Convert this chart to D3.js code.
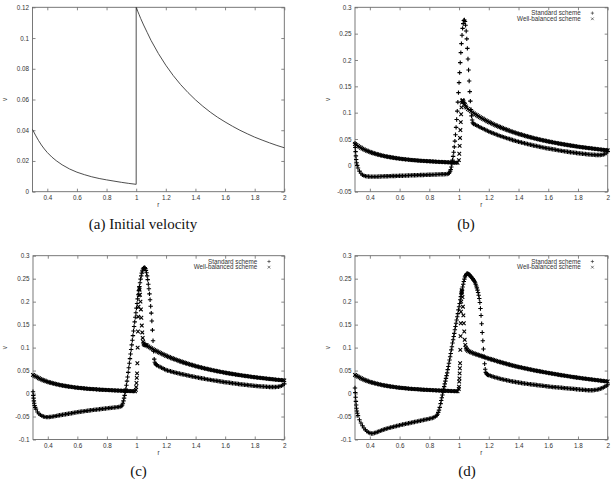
<!DOCTYPE html>
<html>
<head>
<meta charset="utf-8">
<title>velocity</title>
<script src="https://cdn.jsdelivr.net/npm/d3@7"></script>
<style>
  body{margin:0;background:#fff}
  svg{display:block}
</style>
</head>
<body>
<svg id="fig" width="615" height="479"></svg>
<script>
// ---- data ---------------------------------------------------------------
const xTicks = [0.4,0.6,0.8,1,1.2,1.4,1.6,1.8,2]
const yTicksA = [0,0.02,0.04,0.06,0.08,0.1,0.12]
const yTicksB = [-0.05,0,0.05,0.1,0.15,0.2,0.25,0.3]
const yTicksCD = [-0.1,-0.05,0,0.05,0.1,0.15,0.2,0.25,0.3]
const seriesNames = ["Standard scheme","Well-balanced scheme"]
const captions = ["(a) Initial velocity","(b)","(c)","(d)"]

// (a) initial velocity, [r, v]
const initV = [[.30,.0405],[.32,.0368],[.34,.0334],[.36,.0304],[.38,.0278],[.40,.0255],[.43,.0226],[.46,.0202],[.50,.0175],[.55,.0148],[.60,.0127],[.65,.0111],[.70,.0097],[.75,.0086],[.80,.0077],[.85,.0069],[.90,.0061],[.95,.0054],[1.0,.0048],
[1.0,.12],[1.01,.1175],[1.02,.1152],[1.03,.1128],[1.05,.1085],[1.075,.1035],[1.10,.0985],[1.15,.0899],[1.20,.0823],[1.25,.0756],[1.30,.0697],[1.35,.0645],[1.40,.0598],[1.45,.0556],[1.50,.0518],[1.55,.0484],[1.60,.0454],[1.65,.0426],[1.70,.0400],[1.75,.0377],[1.80,.0355],[1.85,.0336],[1.90,.0318],[1.95,.0301],[2.0,.0286]]

// (b)
const stdB = [[.300,.042],[.302,.034],[.304,.026],[.306,.018],[.308,.011],[.311,.005],[.315,.000],[.32,-.005],[.33,-.011],[.34,-.015],[.35,-.018],[.36,-.0195],[.37,-.0205],[.38,-.0210],[.39,-.0212],
[.40,-.0213],[.41,-.0214],[.42,-.0214],[.43,-.0214],[.44,-.0214],[.45,-.0213],[.46,-.0212],[.47,-.0211],[.48,-.0210],[.49,-.0209],
[.50,-.0208],[.51,-.0207],[.52,-.0206],[.53,-.0205],[.54,-.0204],[.55,-.0203],[.56,-.0202],[.57,-.0201],[.58,-.0200],[.59,-.0199],
[.60,-.0198],[.61,-.0197],[.62,-.0196],[.63,-.0195],[.64,-.0194],[.65,-.0193],[.66,-.0192],[.67,-.0191],[.68,-.0190],[.69,-.0189],
[.70,-.0188],[.71,-.0187],[.72,-.0186],[.73,-.0185],[.74,-.0184],[.75,-.0183],[.76,-.0182],[.77,-.0181],[.78,-.0180],[.79,-.0179],
[.80,-.0178],[.81,-.0177],[.82,-.0176],[.83,-.0175],[.84,-.0174],[.85,-.0173],[.86,-.0172],[.87,-.0171],[.88,-.0170],[.89,-.0169],
[.90,-.0168],[.91,-.0166],[.92,-.0163],[.93,-.0155],[.935,-.014],[.94,-.011],[.944,-.008],[.948,-.003],[.952,.003],[.956,.010],
[.960,.017],[.964,.025],[.968,.035],[.972,.046],[.976,.058],[.980,.072],[.984,.087],[.988,.103],[.992,.120],[.996,.138],
[1.000,.157],[1.004,.176],[1.008,.195],[1.012,.214],[1.016,.231],[1.020,.247],[1.024,.260],[1.028,.269],[1.032,.275],[1.036,.276],
[1.040,.273],[1.044,.266],[1.048,.255],[1.052,.240],[1.056,.222],[1.060,.202],[1.064,.181],[1.068,.160],[1.072,.140],[1.076,.122],
[1.080,.106],[1.084,.094],[1.088,.086],[1.092,.081],[1.096,.079],
[1.10,.0786],[1.11,.0771],[1.12,.0756],[1.13,.0741],[1.14,.0726],[1.15,.0712],[1.16,.0698],[1.17,.0684],[1.18,.0670],[1.19,.0656],
[1.20,.0643],[1.21,.0631],[1.22,.0620],[1.23,.0609],[1.24,.0598],[1.25,.0587],[1.26,.0576],[1.27,.0565],[1.28,.0555],[1.29,.0545],
[1.30,.0535],[1.31,.0526],[1.32,.0517],[1.33,.0508],[1.34,.0499],[1.35,.0490],[1.36,.0481],[1.37,.0472],[1.38,.0464],[1.39,.0456],
[1.40,.0448],[1.41,.0441],[1.42,.0434],[1.43,.0427],[1.44,.0420],[1.45,.0413],[1.46,.0406],[1.47,.0399],[1.48,.0392],[1.49,.0385],
[1.50,.0378],[1.51,.0372],[1.52,.0366],[1.53,.0360],[1.54,.0354],[1.55,.0348],[1.56,.0342],[1.57,.0336],[1.58,.0330],[1.59,.0325],
[1.60,.0320],[1.61,.0315],[1.62,.0310],[1.63,.0305],[1.64,.0300],[1.65,.0295],[1.66,.0290],[1.67,.0285],[1.68,.0280],[1.69,.0275],
[1.70,.0270],[1.71,.0266],[1.72,.0262],[1.73,.0258],[1.74,.0254],[1.75,.0250],[1.76,.0246],[1.77,.0242],[1.78,.0238],[1.79,.0234],
[1.80,.0230],[1.81,.0227],[1.82,.0224],[1.83,.0221],[1.84,.0218],[1.85,.0215],[1.86,.0212],[1.87,.0209],[1.88,.0206],[1.89,.0204],
[1.90,.0202],[1.91,.0200],[1.92,.0198],[1.93,.0197],[1.94,.0196],[1.95,.0196],[1.96,.0199],[1.97,.0205],[1.98,.0215],[1.99,.0235],[2.00,.0265]]

const wbB = [[.30,.0405],[.31,.0386],[.32,.0368],[.33,.0351],[.34,.0334],[.35,.0318],[.36,.0304],[.37,.0290],[.38,.0278],[.39,.0266],
[.40,.0255],[.41,.0245],[.42,.0235],[.43,.0226],[.44,.0218],[.45,.0210],[.46,.0202],[.47,.0195],[.48,.0188],[.49,.0181],
[.50,.0175],[.51,.0169],[.52,.0163],[.53,.0158],[.54,.0153],[.55,.0148],[.56,.0144],[.57,.0139],[.58,.0135],[.59,.0131],
[.60,.0127],[.61,.0124],[.62,.0120],[.63,.0117],[.64,.0114],[.65,.0111],[.66,.0108],[.67,.0105],[.68,.0102],[.69,.0100],
[.70,.0097],[.71,.0095],[.72,.0093],[.73,.0090],[.74,.0088],[.75,.0086],[.76,.0084],[.77,.0082],[.78,.0080],[.79,.0079],
[.80,.0077],[.81,.0075],[.82,.0074],[.83,.0072],[.84,.0070],[.85,.0069],[.86,.0067],[.87,.0066],[.88,.0064],[.89,.0063],
[.90,.0061],[.91,.0060],[.92,.0058],[.93,.0057],[.94,.0056],[.95,.0054],[.96,.0053],[.97,.0052],[.98,.0051],[.99,.0050],
[.999,.010],[1.0015,.022],[1.004,.037],[1.0065,.052],[1.009,.067],[1.0115,.082],[1.014,.097],[1.0165,.110],[1.019,.119],[1.0215,.123],
[1.024,.1235],[1.027,.122],[1.030,.120],[1.035,.117],[1.040,.115],[1.045,.112],
[1.05,.1095],[1.06,.1070],[1.07,.1048],[1.08,.1027],[1.09,.1006],[1.10,.0986],[1.11,.0968],[1.12,.0951],[1.13,.0933],[1.14,.0916],
[1.15,.0899],[1.16,.0884],[1.17,.0869],[1.18,.0853],[1.19,.0838],[1.20,.0823],[1.21,.0810],[1.22,.0796],[1.23,.0783],[1.24,.0769],
[1.25,.0756],[1.26,.0744],[1.27,.0732],[1.28,.0721],[1.29,.0709],[1.30,.0697],[1.31,.0687],[1.32,.0676],[1.33,.0666],[1.34,.0655],
[1.35,.0645],[1.36,.0636],[1.37,.0626],[1.38,.0617],[1.39,.0607],[1.40,.0598],[1.41,.0590],[1.42,.0581],[1.43,.0573],[1.44,.0564],
[1.45,.0556],[1.46,.0548],[1.47,.0541],[1.48,.0533],[1.49,.0526],[1.50,.0518],[1.51,.0511],[1.52,.0504],[1.53,.0498],[1.54,.0491],
[1.55,.0484],[1.56,.0478],[1.57,.0472],[1.58,.0466],[1.59,.0460],[1.60,.0454],[1.61,.0448],[1.62,.0443],[1.63,.0437],[1.64,.0432],
[1.65,.0426],[1.66,.0421],[1.67,.0416],[1.68,.0410],[1.69,.0405],[1.70,.0400],[1.71,.0395],[1.72,.0391],[1.73,.0386],[1.74,.0382],
[1.75,.0377],[1.76,.0373],[1.77,.0368],[1.78,.0364],[1.79,.0359],[1.80,.0355],[1.81,.0351],[1.82,.0347],[1.83,.0344],[1.84,.0340],
[1.85,.0336],[1.86,.0332],[1.87,.0329],[1.88,.0325],[1.89,.0322],[1.90,.0318],[1.91,.0315],[1.92,.0311],[1.93,.0308],[1.94,.0304],
[1.95,.0301],[1.96,.0298],[1.97,.0295],[1.98,.0292],[1.99,.0289],[2.00,.0286]]

// (c)
const stdC = [[.300,.004],[.302,-.004],[.304,-.010],[.306,-.016],[.308,-.021],[.311,-.026],[.315,-.030],[.32,-.034],[.33,-.040],[.34,-.044],[.35,-.0465],[.36,-.0485],[.37,-.0500],[.38,-.0508],[.39,-.0512],
[.40,-.0513],[.41,-.0511],[.42,-.0507],[.43,-.0502],[.44,-.0497],[.45,-.0491],[.46,-.0485],[.47,-.0479],[.48,-.0473],[.49,-.0467],
[.50,-.0461],[.51,-.0455],[.52,-.0450],[.53,-.0444],[.54,-.0439],[.55,-.0433],[.56,-.0428],[.57,-.0422],[.58,-.0416],[.59,-.0411],
[.60,-.0405],[.61,-.0401],[.62,-.0396],[.63,-.0392],[.64,-.0387],[.65,-.0383],[.66,-.0378],[.67,-.0374],[.68,-.0369],[.69,-.0365],
[.70,-.0360],[.71,-.0356],[.72,-.0352],[.73,-.0349],[.74,-.0345],[.75,-.0341],[.76,-.0337],[.77,-.0333],[.78,-.0330],[.79,-.0326],
[.80,-.0322],[.81,-.0318],[.82,-.0314],[.83,-.0311],[.84,-.0307],[.85,-.0303],[.86,-.0300],[.87,-.0296],[.88,-.0292],[.89,-.0285],
[.90,-.0272],[.904,-.025],[.908,-.021],[.912,-.016],[.916,-.010],[.920,-.004],[.924,.003],[.928,.010],[.932,.018],[.936,.027],
[.940,.036],[.944,.046],[.948,.056],[.952,.066],[.956,.076],[.960,.086],[.964,.096],[.968,.106],[.972,.116],[.976,.126],
[.980,.136],[.984,.146],[.988,.156],[.992,.166],[.996,.176],[1.000,.186],[1.004,.196],[1.008,.206],[1.012,.215],[1.016,.224],
[1.020,.233],[1.024,.241],[1.028,.249],[1.032,.256],[1.036,.262],[1.040,.267],[1.044,.271],[1.048,.273],[1.052,.274],[1.056,.274],
[1.060,.272],[1.064,.268],[1.068,.263],[1.072,.256],[1.076,.248],[1.080,.238],[1.084,.228],[1.088,.217],[1.092,.204],[1.096,.190],
[1.100,.175],[1.104,.158],[1.108,.138],[1.112,.115],[1.116,.092],[1.120,.075],[1.124,.068],[1.128,.065],[1.132,.063],[1.136,.062],
[1.14,.0615],[1.15,.0595],[1.16,.0577],[1.17,.0560],[1.18,.0544],[1.19,.0528],
[1.20,.0513],[1.21,.0503],[1.22,.0494],[1.23,.0485],[1.24,.0476],[1.25,.0467],[1.26,.0459],[1.27,.0451],[1.28,.0443],[1.29,.0435],
[1.30,.0427],[1.31,.0420],[1.32,.0413],[1.33,.0406],[1.34,.0399],[1.35,.0392],[1.36,.0385],[1.37,.0378],[1.38,.0371],[1.39,.0364],
[1.40,.0357],[1.41,.0351],[1.42,.0345],[1.43,.0339],[1.44,.0333],[1.45,.0327],[1.46,.0321],[1.47,.0315],[1.48,.0309],[1.49,.0303],
[1.50,.0297],[1.51,.0292],[1.52,.0287],[1.53,.0282],[1.54,.0277],[1.55,.0272],[1.56,.0267],[1.57,.0262],[1.58,.0257],[1.59,.0252],
[1.60,.0247],[1.61,.0243],[1.62,.0239],[1.63,.0234],[1.64,.0230],[1.65,.0225],[1.66,.0221],[1.67,.0217],[1.68,.0212],[1.69,.0208],
[1.70,.0204],[1.71,.0200],[1.72,.0197],[1.73,.0193],[1.74,.0189],[1.75,.0186],[1.76,.0182],[1.77,.0178],[1.78,.0175],[1.79,.0171],
[1.80,.0168],[1.81,.0165],[1.82,.0162],[1.83,.0160],[1.84,.0157],[1.85,.0155],[1.86,.0152],[1.87,.0150],[1.88,.0148],[1.89,.0146],
[1.90,.0144],[1.91,.0143],[1.92,.0142],[1.93,.0142],[1.94,.0143],[1.95,.0145],[1.96,.0149],[1.97,.0156],[1.98,.0167],[1.99,.0185],[2.00,.0210]]

const wbC = [[.30,.0405],[.31,.0386],[.32,.0368],[.33,.0351],[.34,.0334],[.35,.0318],[.36,.0304],[.37,.0290],[.38,.0278],[.39,.0266],
[.40,.0255],[.41,.0245],[.42,.0235],[.43,.0226],[.44,.0218],[.45,.0210],[.46,.0202],[.47,.0195],[.48,.0188],[.49,.0181],
[.50,.0175],[.51,.0169],[.52,.0163],[.53,.0158],[.54,.0153],[.55,.0148],[.56,.0144],[.57,.0139],[.58,.0135],[.59,.0131],
[.60,.0127],[.61,.0124],[.62,.0120],[.63,.0117],[.64,.0114],[.65,.0111],[.66,.0108],[.67,.0105],[.68,.0102],[.69,.0100],
[.70,.0097],[.71,.0095],[.72,.0093],[.73,.0090],[.74,.0088],[.75,.0086],[.76,.0084],[.77,.0082],[.78,.0080],[.79,.0079],
[.80,.0077],[.81,.0075],[.82,.0074],[.83,.0072],[.84,.0070],[.85,.0069],[.86,.0067],[.87,.0066],[.88,.0064],[.89,.0063],
[.90,.0061],[.91,.0060],[.92,.0058],[.93,.0057],[.94,.0056],[.95,.0054],[.96,.0053],[.97,.0052],[.98,.0051],[.99,.0050],
[.996,.008],[.998,.014],[1.000,.023],[1.002,.034],[1.004,.044],[1.006,.066],[1.008,.100],[1.010,.135],[1.012,.167],[1.014,.189],
[1.016,.214],[1.018,.229],[1.021,.226],[1.024,.215],[1.027,.200],[1.030,.183],[1.033,.165],[1.036,.148],[1.039,.133],[1.042,.121],
[1.045,.113],[1.048,.109],[1.052,.107],[1.056,.106],[1.060,.1055],[1.065,.105],
[1.07,.1045],[1.08,.1025],[1.09,.1005],[1.10,.0985],[1.11,.0968],[1.12,.0951],[1.13,.0933],[1.14,.0916],
[1.15,.0899],[1.16,.0884],[1.17,.0869],[1.18,.0853],[1.19,.0838],[1.20,.0823],[1.21,.0810],[1.22,.0796],[1.23,.0783],[1.24,.0769],
[1.25,.0756],[1.26,.0744],[1.27,.0732],[1.28,.0721],[1.29,.0709],[1.30,.0697],[1.31,.0687],[1.32,.0676],[1.33,.0666],[1.34,.0655],
[1.35,.0645],[1.36,.0636],[1.37,.0626],[1.38,.0617],[1.39,.0607],[1.40,.0598],[1.41,.0590],[1.42,.0581],[1.43,.0573],[1.44,.0564],
[1.45,.0556],[1.46,.0548],[1.47,.0541],[1.48,.0533],[1.49,.0526],[1.50,.0518],[1.51,.0511],[1.52,.0504],[1.53,.0498],[1.54,.0491],
[1.55,.0484],[1.56,.0478],[1.57,.0472],[1.58,.0466],[1.59,.0460],[1.60,.0454],[1.61,.0448],[1.62,.0443],[1.63,.0437],[1.64,.0432],
[1.65,.0426],[1.66,.0421],[1.67,.0416],[1.68,.0410],[1.69,.0405],[1.70,.0400],[1.71,.0395],[1.72,.0391],[1.73,.0386],[1.74,.0382],
[1.75,.0377],[1.76,.0373],[1.77,.0368],[1.78,.0364],[1.79,.0359],[1.80,.0355],[1.81,.0351],[1.82,.0347],[1.83,.0344],[1.84,.0340],
[1.85,.0336],[1.86,.0332],[1.87,.0329],[1.88,.0325],[1.89,.0322],[1.90,.0318],[1.91,.0315],[1.92,.0311],[1.93,.0308],[1.94,.0304],
[1.95,.0301],[1.96,.0298],[1.97,.0295],[1.98,.0292],[1.99,.0289],[2.00,.0286]]

// (d)
const stdD = [[.300,.012],[.302,.002],[.304,-.008],[.306,-.017],[.308,-.025],[.310,-.032],[.313,-.038],[.316,-.043],[.32,-.048],[.33,-.057],[.34,-.064],[.35,-.070],[.36,-.075],[.37,-.079],[.38,-.082],[.39,-.0845],
[.40,-.0860],[.41,-.0868],[.42,-.0868],[.43,-.0860],[.44,-.0850],[.45,-.0838],[.46,-.0826],[.47,-.0813],[.48,-.0800],[.49,-.0788],
[.50,-.0776],[.51,-.0766],[.52,-.0757],[.53,-.0748],[.54,-.0739],[.55,-.0730],[.56,-.0722],[.57,-.0714],[.58,-.0706],[.59,-.0698],
[.60,-.0690],[.61,-.0682],[.62,-.0675],[.63,-.0668],[.64,-.0661],[.65,-.0654],[.66,-.0647],[.67,-.0640],[.68,-.0633],[.69,-.0626],
[.70,-.0619],[.71,-.0612],[.72,-.0605],[.73,-.0598],[.74,-.0591],[.75,-.0584],[.76,-.0577],[.77,-.0570],[.78,-.0563],[.79,-.0556],
[.80,-.0549],[.81,-.0541],[.82,-.0532],[.83,-.0520],[.84,-.0503],[.85,-.0478],[.855,-.045],[.86,-.041],[.865,-.036],[.87,-.030],[.876,-.022],
[.880,-.015],[.884,-.009],[.888,-.003],[.892,.003],[.896,.009],[.900,.015],[.904,.021],[.908,.027],[.912,.033],[.916,.039],
[.920,.045],[.924,.052],[.928,.059],[.932,.066],[.936,.073],[.940,.080],[.944,.087],[.948,.095],[.952,.102],[.956,.110],
[.960,.117],[.964,.124],[.968,.131],[.972,.139],[.976,.146],[.980,.153],[.984,.160],[.988,.167],[.992,.174],[.996,.182],
[1.000,.189],[1.004,.196],[1.008,.204],[1.012,.211],[1.016,.218],[1.020,.225],[1.024,.232],[1.028,.238],[1.032,.244],[1.036,.249],
[1.040,.254],[1.044,.257],[1.048,.259],[1.052,.261],[1.056,.261],[1.060,.261],[1.064,.260],[1.068,.259],[1.072,.258],[1.076,.256],
[1.080,.254],[1.084,.253],[1.088,.251],[1.092,.250],[1.096,.248],[1.100,.246],[1.104,.244],[1.108,.241],[1.112,.238],[1.116,.234],
[1.120,.230],[1.124,.225],[1.128,.220],[1.132,.214],[1.136,.207],[1.140,.198],[1.144,.185],[1.148,.170],[1.152,.152],[1.156,.133],
[1.160,.115],[1.164,.097],[1.168,.080],[1.172,.065],[1.176,.053],[1.180,.046],[1.184,.043],[1.188,.042],[1.192,.041],[1.196,.0405],
[1.20,.0400],[1.21,.0388],[1.22,.0377],[1.23,.0366],[1.24,.0356],[1.25,.0346],[1.26,.0337],[1.27,.0328],[1.28,.0320],[1.29,.0312],
[1.30,.0304],[1.31,.0297],[1.32,.0290],[1.33,.0283],[1.34,.0276],[1.35,.0269],[1.36,.0263],[1.37,.0257],[1.38,.0251],[1.39,.0245],
[1.40,.0240],[1.41,.0235],[1.42,.0230],[1.43,.0225],[1.44,.0220],[1.45,.0215],[1.46,.0210],[1.47,.0206],[1.48,.0202],[1.49,.0198],
[1.50,.0194],[1.51,.0190],[1.52,.0186],[1.53,.0182],[1.54,.0178],[1.55,.0174],[1.56,.0170],[1.57,.0166],[1.58,.0162],[1.59,.0158],
[1.60,.0154],[1.61,.0150],[1.62,.0146],[1.63,.0143],[1.64,.0140],[1.65,.0137],[1.66,.0134],[1.67,.0131],[1.68,.0128],[1.69,.0125],
[1.70,.0122],[1.71,.0119],[1.72,.0116],[1.73,.0113],[1.74,.0110],[1.75,.0107],[1.76,.0104],[1.77,.0101],[1.78,.0098],[1.79,.0095],
[1.80,.0092],[1.81,.0089],[1.82,.0086],[1.83,.0083],[1.84,.0080],[1.85,.0077],[1.86,.0075],[1.87,.0073],[1.88,.0072],[1.89,.0072],
[1.90,.0073],[1.91,.0076],[1.92,.0080],[1.93,.0086],[1.94,.0094],[1.95,.0104],[1.96,.0116],[1.97,.0131],[1.98,.0149],[1.99,.0168],[2.00,.0190]]

const wbD = [[.30,.0405],[.31,.0386],[.32,.0368],[.33,.0351],[.34,.0334],[.35,.0318],[.36,.0304],[.37,.0290],[.38,.0278],[.39,.0266],
[.40,.0255],[.41,.0245],[.42,.0235],[.43,.0226],[.44,.0218],[.45,.0210],[.46,.0202],[.47,.0195],[.48,.0188],[.49,.0181],
[.50,.0175],[.51,.0169],[.52,.0163],[.53,.0158],[.54,.0153],[.55,.0148],[.56,.0144],[.57,.0139],[.58,.0135],[.59,.0131],
[.60,.0127],[.61,.0124],[.62,.0120],[.63,.0117],[.64,.0114],[.65,.0111],[.66,.0108],[.67,.0105],[.68,.0102],[.69,.0100],
[.70,.0097],[.71,.0095],[.72,.0093],[.73,.0090],[.74,.0088],[.75,.0086],[.76,.0084],[.77,.0082],[.78,.0080],[.79,.0079],
[.80,.0077],[.81,.0075],[.82,.0074],[.83,.0072],[.84,.0070],[.85,.0069],[.86,.0067],[.87,.0066],[.88,.0064],[.89,.0063],
[.90,.0061],[.91,.0060],[.92,.0058],[.93,.0057],[.94,.0056],[.95,.0054],[.96,.0053],[.97,.0052],[.98,.0051],[.99,.0050],
[.998,.010],[.9995,.015],[1.001,.026],[1.0025,.033],[1.004,.044],[1.0055,.055],[1.007,.066],[1.0085,.095],[1.010,.125],[1.0115,.153],
[1.013,.178],[1.0145,.200],[1.016,.218],[1.0175,.225],[1.020,.222],[1.023,.210],[1.026,.189],[1.029,.170],[1.032,.153],[1.035,.135],
[1.038,.117],[1.042,.106],[1.046,.100],[1.050,.097],[1.055,.095],
[1.06,.0930],[1.07,.0915],[1.08,.0900],[1.09,.0885],[1.10,.0872],[1.11,.0860],[1.12,.0849],[1.13,.0838],[1.14,.0827],
[1.15,.0816],[1.16,.0805],[1.17,.0794],[1.18,.0783],[1.19,.0772],[1.20,.0761],[1.21,.0751],[1.22,.0741],[1.23,.0731],[1.24,.0721],
[1.25,.0711],[1.26,.0701],[1.27,.0691],[1.28,.0682],[1.29,.0673],[1.30,.0664],[1.31,.0655],[1.32,.0646],[1.33,.0637],[1.34,.0628],
[1.35,.0619],[1.36,.0611],[1.37,.0603],[1.38,.0595],[1.39,.0587],[1.40,.0579],[1.41,.0572],[1.42,.0565],[1.43,.0558],[1.44,.0551],
[1.45,.0544],[1.46,.0537],[1.47,.0530],[1.48,.0523],[1.49,.0516],[1.50,.0509],[1.51,.0503],[1.52,.0497],[1.53,.0491],[1.54,.0485],
[1.55,.0479],[1.56,.0473],[1.57,.0467],[1.58,.0461],[1.59,.0455],[1.60,.0449],[1.61,.0443],[1.62,.0438],[1.63,.0432],[1.64,.0427],
[1.65,.0421],[1.66,.0416],[1.67,.0410],[1.68,.0405],[1.69,.0399],[1.70,.0394],[1.71,.0389],[1.72,.0384],[1.73,.0379],[1.74,.0374],
[1.75,.0369],[1.76,.0364],[1.77,.0359],[1.78,.0354],[1.79,.0349],[1.80,.0344],[1.81,.0340],[1.82,.0336],[1.83,.0331],[1.84,.0327],
[1.85,.0323],[1.86,.0319],[1.87,.0314],[1.88,.0310],[1.89,.0306],[1.90,.0302],[1.91,.0298],[1.92,.0294],[1.93,.0290],[1.94,.0286],
[1.95,.0282],[1.96,.0278],[1.97,.0274],[1.98,.0270],[1.99,.0266],[2.00,.0262]]

// ---- drawing ------------------------------------------------------------
const svg = d3.select("#fig")
const frameColor = "#6a6a6a", labelColor = "#333", font = "'Liberation Sans', Arial, sans-serif"
const plusPath = "M-2.2,0H2.2M0,-2.2V2.2"
const timesPath = "M-1.8,-1.8L1.8,1.8M-1.8,1.8L1.8,-1.8"

const panels = [
  {x0:32.5, x1:284.3, y0:7.3,   y1:191.7, yDom:[0,0.12],    yTicks:yTicksA,  line:initV, cap:captions[0], capX:143, capY:229, vX:4.5},
  {x0:355,  x1:607.7, y0:7.3,   y1:191.7, yDom:[-0.05,0.3], yTicks:yTicksB,  std:stdB, wb:wbB, cap:captions[1], capX:466, capY:229, vX:327.5},
  {x0:33,   x1:284.3, y0:255.7, y1:439.5, yDom:[-0.1,0.3],  yTicks:yTicksCD, std:stdC, wb:wbC, cap:captions[2], capX:138.5, capY:476, vX:5},
  {x0:355,  x1:607.7, y0:255.7, y1:439.5, yDom:[-0.1,0.3],  yTicks:yTicksCD, std:stdD, wb:wbD, cap:captions[3], capX:467, capY:476, vX:327.5}
]

function styleAxis(sel){
  sel.attr("font-family", font).attr("font-size", 6.3)
  sel.select(".domain").remove()
  sel.selectAll(".tick line").attr("stroke", frameColor).attr("stroke-width", 0.8)
  sel.selectAll(".tick text").attr("fill", labelColor)
}

function drawPanel(p){
  const x = d3.scaleLinear().domain([0.3,2]).range([p.x0,p.x1])
  const y = d3.scaleLinear().domain(p.yDom).range([p.y1,p.y0])
  const g = svg.append("g")

  g.append("g").attr("transform","translate(0,"+p.y1+")")
    .call(d3.axisBottom(x).tickValues(xTicks).tickFormat(String).tickSizeInner(-3).tickSizeOuter(0).tickPadding(4)).call(styleAxis)
  g.append("g").attr("transform","translate(0,"+p.y0+")")
    .call(d3.axisTop(x).tickValues(xTicks).tickFormat("").tickSizeInner(-3).tickSizeOuter(0)).call(styleAxis)
  g.append("g").attr("transform","translate("+p.x0+",0)")
    .call(d3.axisLeft(y).tickValues(p.yTicks).tickFormat(String).tickSizeInner(-3).tickSizeOuter(0).tickPadding(3.5)).call(styleAxis)
  g.append("g").attr("transform","translate("+p.x1+",0)")
    .call(d3.axisRight(y).tickValues(p.yTicks).tickFormat("").tickSizeInner(-3).tickSizeOuter(0)).call(styleAxis)

  g.append("rect").attr("x",p.x0).attr("y",p.y0).attr("width",p.x1-p.x0).attr("height",p.y1-p.y0)
    .attr("fill","none").attr("stroke",frameColor).attr("stroke-width",0.9)

  // axis names
  g.append("text").attr("x",(p.x0+p.x1)/2).attr("y",p.y1+15.5).attr("text-anchor","middle")
    .attr("font-family",font).attr("font-size",6.3).attr("fill",labelColor).text("r")
  g.append("text").attr("transform","translate("+p.vX+","+((p.y0+p.y1)/2)+") rotate(-90)")
    .attr("text-anchor","middle").attr("dy","0.35em")
    .attr("font-family",font).attr("font-size",6.3).attr("fill",labelColor).text("v")

  if(p.line){
    g.append("path").datum(p.line)
      .attr("d", d3.line().x(d=>x(d[0])).y(d=>y(d[1])))
      .attr("fill","none").attr("stroke","#3a3a3a").attr("stroke-width",0.9)
  }
  if(p.std){
    g.append("g").selectAll("path").data(p.std).join("path")
      .attr("d",plusPath).attr("transform",d=>"translate("+x(d[0])+","+y(d[1])+")")
      .attr("fill","none").attr("stroke","#000").attr("stroke-width",1.1)
    g.append("g").selectAll("path").data(p.wb).join("path")
      .attr("d",timesPath).attr("transform",d=>"translate("+x(d[0])+","+y(d[1])+")")
      .attr("fill","none").attr("stroke","#000").attr("stroke-width",1.1)

    // legend
    const lg = g.append("g")
    seriesNames.forEach((name,i)=>{
      const ly = p.y0 + 5.8 + i*5.7
      lg.append("text").attr("x",p.x1-27).attr("y",ly).attr("dy","0.35em").attr("text-anchor","end")
        .attr("font-family",font).attr("font-size",6.3).attr("fill",labelColor).text(name)
      lg.append("path").attr("d", i===0 ? plusPath : timesPath)
        .attr("transform","translate("+(p.x1-15.3)+","+ly+") scale(0.75)")
        .attr("fill","none").attr("stroke","#222").attr("stroke-width",0.8)
    })
  }

  svg.append("text").attr("x",p.capX).attr("y",p.capY).attr("text-anchor","middle")
    .attr("font-family","'Liberation Serif', 'DejaVu Serif', serif").attr("font-size",15).attr("fill","#111")
    .text(p.cap)
}

panels.forEach(drawPanel)
</script>
</body>
</html>
